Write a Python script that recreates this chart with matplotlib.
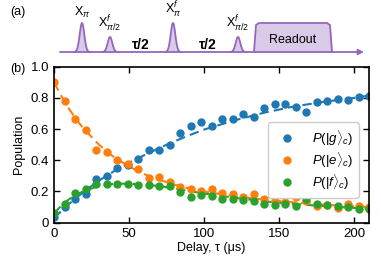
import numpy as np
import matplotlib
matplotlib.use('Agg')
import matplotlib.pyplot as plt

plt.rcParams['font.family'] = ['Liberation Sans', 'DejaVu Sans']
plt.rcParams['mathtext.fontset'] = 'custom'
plt.rcParams['mathtext.rm'] = 'Liberation Sans'
plt.rcParams['mathtext.it'] = 'Liberation Sans:italic'
plt.rcParams['font.size'] = 9

# measured populations
delay = [0, 7, 14, 21, 28, 35, 42, 49, 56, 63, 70, 77, 84, 91, 98, 105,
         112, 119, 126, 133, 140, 147, 154, 161, 168, 175, 182, 189, 196, 203, 210]
p_g = [0.039, 0.103, 0.150, 0.187, 0.280, 0.301, 0.353, 0.370, 0.408, 0.469,
       0.469, 0.497, 0.573, 0.619, 0.645, 0.618, 0.662, 0.662, 0.694, 0.676,
       0.737, 0.758, 0.760, 0.742, 0.710, 0.773, 0.783, 0.790, 0.786, 0.807, 0.815]
p_e = [0.899, 0.781, 0.662, 0.597, 0.469, 0.453, 0.403, 0.376, 0.345, 0.288,
       0.292, 0.258, 0.232, 0.215, 0.200, 0.214, 0.190, 0.182, 0.163, 0.186,
       0.151, 0.137, 0.130, 0.162, 0.140, 0.106, 0.114, 0.093, 0.120, 0.105, 0.100]
p_f = [0.065, 0.118, 0.189, 0.218, 0.245, 0.247, 0.247, 0.247, 0.241, 0.241,
       0.234, 0.238, 0.198, 0.166, 0.176, 0.170, 0.155, 0.155, 0.144, 0.140,
       0.120, 0.112, 0.118, 0.108, 0.153, 0.118, 0.112, 0.104, 0.103, 0.089, 0.086]

# fitted curves
fit_t = [0, 5, 10, 15, 20, 30, 40, 50, 60, 70, 80, 90, 100, 120, 140, 160, 180, 200, 210]
fit_g = [0.030, 0.075, 0.120, 0.160, 0.200, 0.270, 0.330, 0.385, 0.432, 0.478,
         0.520, 0.560, 0.597, 0.655, 0.705, 0.745, 0.775, 0.800, 0.815]
fit_e = [0.900, 0.810, 0.730, 0.660, 0.600, 0.500, 0.420, 0.360, 0.312, 0.275,
         0.245, 0.220, 0.200, 0.170, 0.148, 0.130, 0.115, 0.105, 0.100]
fit_f = [0.060, 0.110, 0.150, 0.180, 0.203, 0.235, 0.250, 0.250, 0.245, 0.235,
         0.220, 0.203, 0.187, 0.160, 0.137, 0.120, 0.106, 0.095, 0.090]

labels = [r'$P(|g\rangle_c)$', r'$P(|e\rangle_c)$', r'$P(|f\rangle_c)$']
colors = ['#1f77b4', '#ff7f0e', '#2ca02c']

fig = plt.figure(figsize=(3.81, 2.61), dpi=100)

# (b) populations
ax = fig.add_axes([54 / 381, 1 - 222.7 / 261, 315 / 381, 156 / 261])
for fit, c in zip([fit_g, fit_e, fit_f], colors):
    ax.plot(fit_t, fit, '--', color=c, lw=1.5, dashes=(4.5, 2.5))
for pts, c, lab in zip([p_g, p_e, p_f], colors, labels):
    ax.plot(delay, pts, 'o', color=c, ms=5, label=lab)
ax.set_xlim(0, 210)
ax.set_ylim(0, 1.0)
ax.set_xticks([0, 50, 100, 150, 200])
ax.set_yticks([0, 0.2, 0.4, 0.6, 0.8, 1.0])
ax.set_yticklabels(['0', '0.2', '0.4', '0.6', '0.8', '1.0'])
ax.tick_params(direction='in', top=True, right=True, length=4, width=1, labelsize=9.5)
for s in ax.spines.values():
    s.set_linewidth(1.2)
ax.set_xlabel(r'Delay, τ (μs)', fontsize=9, labelpad=2)
ax.set_ylabel('Population', fontsize=9, labelpad=4)
ax.legend(loc='upper right', bbox_to_anchor=(0.968, 0.645), borderaxespad=0,
          fontsize=9.5, labelspacing=0.15, handletextpad=0.9, framealpha=1,
          edgecolor='#cccccc', borderpad=0.45)
fig.text(10 / 381, 1 - 72 / 261, '(b)', fontsize=9)

# (a) pulse sequence, drawn in pixel-like units
axa = fig.add_axes([0, 1 - 58 / 261, 1, 58 / 261])
axa.set_xlim(0, 381)
axa.set_ylim(58, 0)
axa.axis('off')
purple = '#9467bd'
base = 52
centers = [82, 110, 173, 238]
heights = [29, 15, 29, 15]
pulse_labels = [r'$\mathrm{X}_{\pi}$', r'$\mathrm{X}^{f}_{\pi/2}$',
                r'$\mathrm{X}^{f}_{\pi}$', r'$\mathrm{X}^{f}_{\pi/2}$']
axa.annotate('', xy=(364, base), xytext=(60, base),
             arrowprops=dict(arrowstyle='-|>', color=purple, lw=1.3, mutation_scale=8,
                             shrinkA=0, shrinkB=0))
for c, h, lab in zip(centers, heights, pulse_labels):
    xx = np.linspace(c - 8, c + 8, 60)
    yy = base - h * np.exp(-(xx - c) ** 2 / (2 * 2.3 ** 2))
    axa.fill_between(xx, yy, base, color=purple, alpha=0.35, lw=0)
    axa.plot(xx, yy, color=purple, lw=1.3)
    axa.text(c, base - h - 3, lab, ha='center', va='bottom', fontsize=9)
for x in [141, 208]:
    axa.text(x, 45, 'τ/2', ha='center', va='center', fontsize=10, fontweight='bold')
ro_x = [254, 256, 259, 327, 330, 332]
ro_y = [base, 25, 23, 23, 25, base]
axa.fill_between(ro_x, ro_y, base, color=purple, alpha=0.35, lw=0)
axa.plot(ro_x, ro_y, color=purple, lw=1.3)
axa.text(293, 40, 'Readout', ha='center', va='center', fontsize=9)
axa.text(10, 12, '(a)', ha='left', va='center', fontsize=9)

fig.savefig('out.png', dpi=100)
